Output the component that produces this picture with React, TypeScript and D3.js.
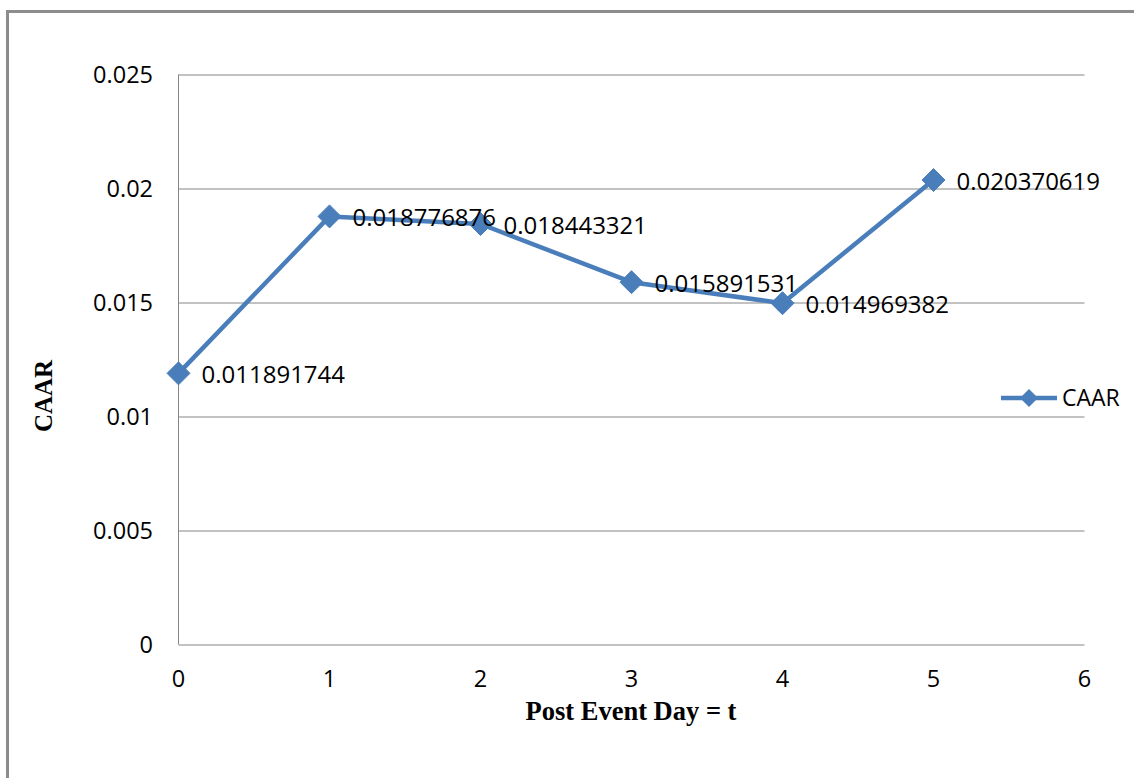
import React from "react";
import * as d3 from "d3";

const days = [0, 1, 2, 3, 4, 5];
const caar = [0.011891744, 0.018776876, 0.018443321, 0.015891531, 0.014969382, 0.020370619];
const labels = ["0.011891744", "0.018776876", "0.018443321", "0.015891531", "0.014969382", "0.020370619"];
const yTicks = [0, 0.005, 0.01, 0.015, 0.02, 0.025];
const yTickLabels = ["0", "0.005", "0.01", "0.015", "0.02", "0.025"];
const xTicks = [0, 1, 2, 3, 4, 5, 6];
const seriesName = "CAAR";

const W = 1134;
const H = 778;
const left = 178.5;
const right = 1084.5;
const top = 74.5;
const bottom = 644.5;
const BLUE = "#4a7ebb";
const GRID = "#868686";
const SANS = "'Open Sans', sans-serif";
const SERIF = "'Liberation Serif', 'Times New Roman', serif";

export default function App() {
  const x = d3.scaleLinear().domain([0, 6]).range([left, right]);
  const y = d3.scaleLinear().domain([0, 0.025]).range([bottom, top]);
  const line = d3
    .line<number>()
    .x((_, i) => x(days[i]))
    .y((d) => y(d));
  const diamond = (cx: number, cy: number, r: number) =>
    `M${cx},${cy - r}L${cx + r},${cy}L${cx},${cy + r}L${cx - r},${cy}Z`;

  return (
    <svg
      width={W}
      height={H}
      style={{ position: "absolute", left: 0, top: 0, background: "#fff" }}
    >
      <rect x={0} y={0} width={W} height={H} fill="#fff" />
      <rect x={7.5} y={11.5} width={1300} height={1000} fill="none" stroke="#8c8c8c" strokeWidth={3} />
      {yTicks.map((t) => (
        <line key={"g" + t} x1={left} x2={right} y1={Math.round(y(t))} y2={Math.round(y(t))} stroke={GRID} strokeWidth={1} />
      ))}
      <line x1={left} x2={left} y1={top} y2={bottom} stroke={GRID} strokeWidth={1} />
      {yTicks.map((t, i) => (
        <text
          key={"yl" + t}
          x={153}
          y={y(t)}
          dy="0.35em"
          textAnchor="end"
          fontFamily={SANS}
          fontSize={23.5}
          fill="#000"
        >
          {yTickLabels[i]}
        </text>
      ))}
      {xTicks.map((t) => (
        <text
          key={"xl" + t}
          x={x(t)}
          y={687}
          textAnchor="middle"
          fontFamily={SANS}
          fontSize={23.5}
          fill="#000"
        >
          {t}
        </text>
      ))}
      <path d={line(caar) || ""} fill="none" stroke={BLUE} strokeWidth={4.5} strokeLinejoin="round" />
      {caar.map((v, i) => (
        <path key={"m" + i} d={diamond(x(days[i]), y(v), 11.5)} fill={BLUE} stroke={BLUE} strokeWidth={1} />
      ))}
      {caar.map((v, i) => (
        <text
          key={"dl" + i}
          x={x(days[i]) + 23}
          y={y(v) + 10}
          fontFamily={SANS}
          fontSize={24}
          fill="#000"
        >
          {labels[i]}
        </text>
      ))}
      <text
        transform={`translate(52,396) rotate(-90)`}
        textAnchor="middle"
        fontFamily={SERIF}
        fontWeight="bold"
        fontSize={25}
        fill="#000"
      >
        CAAR
      </text>
      <text
        x={631}
        y={720}
        textAnchor="middle"
        fontFamily={SERIF}
        fontWeight="bold"
        fontSize={26.5}
        fill="#000"
      >
        Post Event Day = t
      </text>
      <line x1={1001} x2={1057} y1={398} y2={398} stroke={BLUE} strokeWidth={4.5} />
      <path d={diamond(1029, 398, 9)} fill={BLUE} />
      <text x={1062} y={398} dy="0.35em" fontFamily={SANS} fontSize={23} fill="#000">
        {seriesName}
      </text>
    </svg>
  );
}
